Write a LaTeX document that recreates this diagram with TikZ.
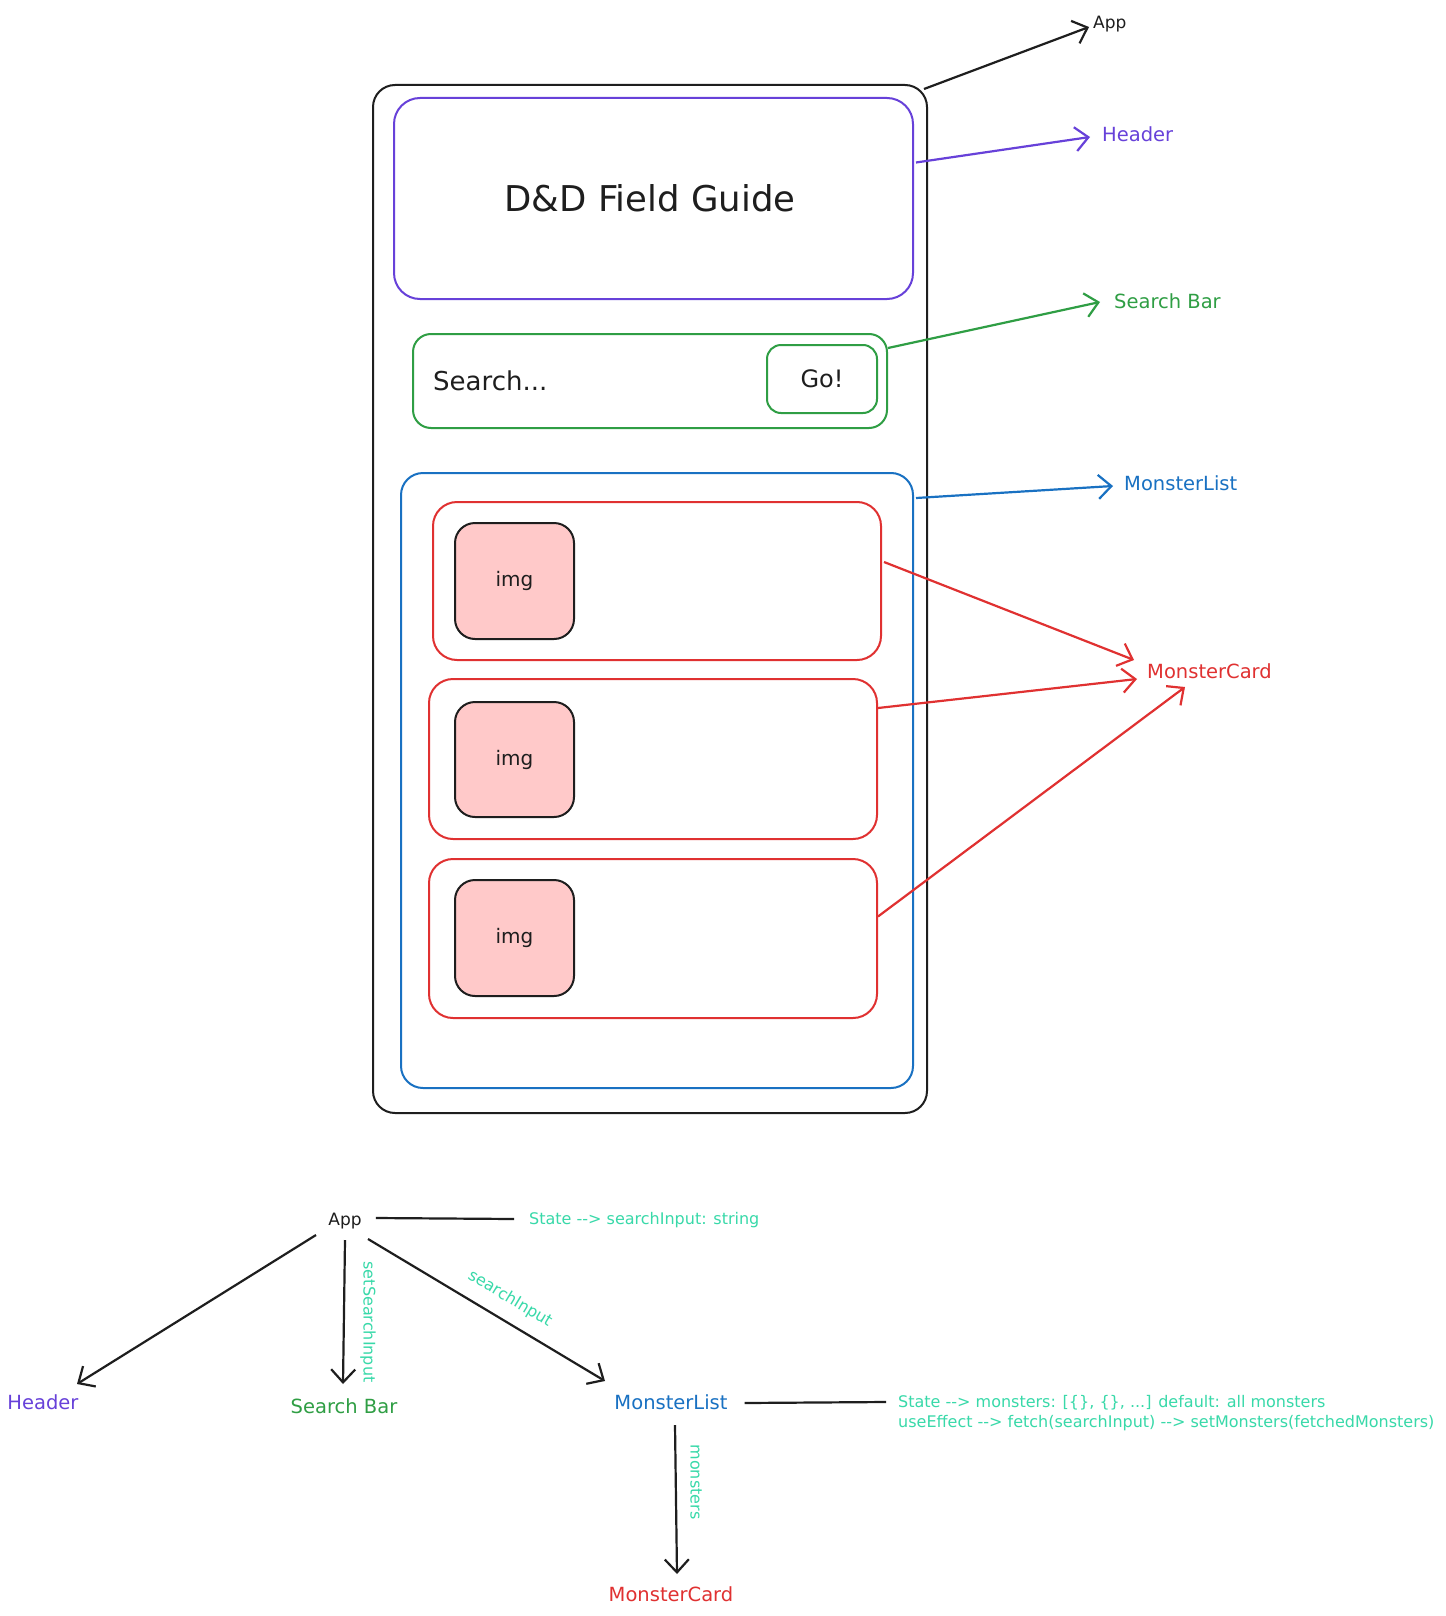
\documentclass[tikz,border=0pt]{standalone}
\usepackage{fontspec}
\setmainfont{DejaVu Sans}[Ligatures=TeXOff]
\usetikzlibrary{arrows.meta,calc}
\definecolor{ink}{HTML}{1E1E1E}
\definecolor{vio}{HTML}{6741D9}
\definecolor{grn}{HTML}{2F9E44}
\definecolor{blu}{HTML}{1971C2}
\definecolor{redd}{HTML}{E03131}
\definecolor{pinkf}{HTML}{FFC9C9}
\definecolor{mint}{HTML}{38D9A9}
\tikzset{
  box/.style={draw, rectangle, line width=2pt, inner sep=0pt},
  arr/.style={line width=2.2pt, -{Straight Barb[length=13pt,width=24pt,line width=2.2pt]}},
  lbl/.style={font=\fontsize{19.5}{22}\selectfont, inner sep=0pt},
  note/.style={font=\fontsize{16}{20}\selectfont, text=mint, inner sep=0pt},
}
\begin{document}
\begin{tikzpicture}[x=1pt,y=-1pt]
\useasboundingbox[fill=white] (0,0) rectangle (1445,1616);
% ---------- wireframe ----------
\node[box, ink, rounded corners=22pt, minimum width=554pt, minimum height=1028pt] (appbox) at (650,599) {};
\node[box, vio, rounded corners=26pt, minimum width=519pt, minimum height=201pt] (hdr) at (653.5,198.5) {};
\node[text=ink, font=\fontsize{35.5}{40}\selectfont, inner sep=0pt] (title) at (650,198) {D\&D Field Guide};
\node[box, grn, rounded corners=18pt, minimum width=474pt, minimum height=94pt] (sbar) at (650,381) {};
\node[text=ink, font=\fontsize{26}{30}\selectfont, inner sep=0pt, anchor=west] (stext) at (433,381) {Search...};
\node[box, grn, rounded corners=14pt, minimum width=110pt, minimum height=68pt] (go) at (822,379) {};
\node[text=ink, font=\fontsize{24}{28}\selectfont, inner sep=0pt] (gotext) at (822,379) {Go!};
\node[box, blu, rounded corners=22pt, minimum width=512pt, minimum height=615pt] (lst) at (657,780.5) {};
\node[box, redd, rounded corners=24pt, minimum width=448pt, minimum height=158pt] (c1) at (657,581) {};
\node[box, redd, rounded corners=24pt, minimum width=448pt, minimum height=160pt] (c2) at (653,759) {};
\node[box, redd, rounded corners=24pt, minimum width=448pt, minimum height=159pt] (c3) at (653,938.5) {};
\node[box, ink, fill=pinkf, rounded corners=20pt, minimum width=119pt, minimum height=116pt,
      font=\fontsize{20}{24}\selectfont] (i1) at (514.5,581) {img};
\node[box, ink, fill=pinkf, rounded corners=20pt, minimum width=119pt, minimum height=115pt,
      font=\fontsize{20}{24}\selectfont] (i2) at (514.5,759.5) {img};
\node[box, ink, fill=pinkf, rounded corners=20pt, minimum width=119pt, minimum height=116pt,
      font=\fontsize{20}{24}\selectfont] (i3) at (514.5,938) {img};
% ---------- side labels ----------
\node[lbl, text=ink, anchor=west, font=\fontsize{17}{20}\selectfont] (lapp) at (1093,24) {App};
\node[lbl, text=vio, anchor=west] (lhdr) at (1102,134) {Header};
\node[lbl, text=grn, anchor=west] (lsb) at (1114,301) {Search Bar};
\node[lbl, text=blu, anchor=west] (llst) at (1124,483) {MonsterList};
\node[lbl, text=redd, anchor=west] (lmc) at (1147,671) {MonsterCard};
\draw[arr, ink] ($(appbox.north east)+(-4,5)$) -- ($(lapp.west)+(-4,3)$);
\draw[arr, vio] ($(hdr.east)+(2,-36)$) -- ($(lhdr.west)+(-12,3)$);
\draw[arr, grn] ($(sbar.east)+(0,-33)$) -- ($(lsb.west)+(-14,1)$);
\draw[arr, blu] ($(lst.north east)+(2,26)$) -- ($(llst.west)+(-11,3)$);
\draw[arr, redd] ($(c1.east)+(2,-19)$) -- ($(lmc.west)+(-13,-11)$);
\draw[arr, redd] ($(c2.east)+(0,-51)$) -- ($(lmc.west)+(-10,8)$);
\draw[arr, redd] ($(c3.east)+(0,-22)$) -- ($(lmc.west)+(38,16)$);
% ---------- component tree ----------
\node[lbl, text=ink, font=\fontsize{17}{20}\selectfont] (bApp) at (345,1221) {App};
\node[lbl, text=vio] (bHdr) at (43,1402) {Header};
\node[lbl, text=grn] (bSB) at (344,1406) {Search Bar};
\node[lbl, text=blu] (bList) at (671,1402) {MonsterList};
\node[lbl, text=redd] (bCard) at (671,1594) {MonsterCard};
\node[note, anchor=west] (st1) at (529,1220) {State --> searchInput: string};
\node[note, anchor=west, align=left] (st2) at (898,1413) {State --> monsters: [\{\}, \{\}, ...] default: all monsters\\useEffect --> fetch(searchInput) --> setMonsters(fetchedMonsters)};
\draw[line width=2.2pt, ink] ($(bApp.east)+(14,-3)$) -- ($(st1.west)+(-15,-1)$);
\draw[line width=2.2pt, ink] ($(bList.east)+(17,1)$) -- ($(st2.west)+(-12,-11)$);
\draw[arr, ink] ($(bApp.center)+(-29,14)$) -- ($(bHdr.center)+(34,-18)$);
\draw[arr, ink] ($(bApp.center)+(0,19)$) -- ($(bSB.center)+(-1,-22)$);
\draw[arr, ink] ($(bApp.center)+(23,18)$) -- ($(bList.center)+(-66,-21)$);
\draw[arr, ink] ($(bList.center)+(4,23)$) -- ($(bCard.center)+(6,-20)$);
\node[note, rotate=-90] (lss) at (368,1322) {setSearchInput};
\node[note, rotate=-31] (lsi) at (510,1299) {searchInput};
\node[note, rotate=-90] (lmon) at (696,1482) {monsters};
\end{tikzpicture}
\end{document}
